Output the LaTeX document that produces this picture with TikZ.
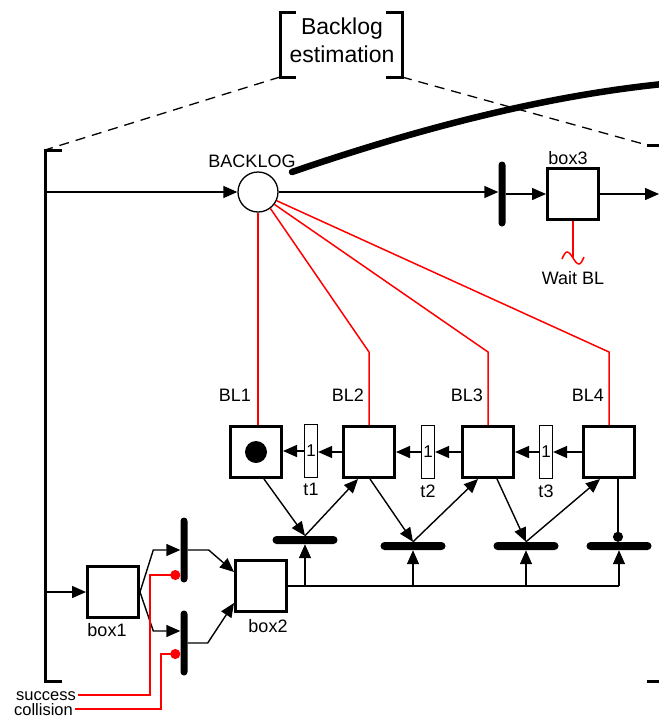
\documentclass[tikz,border=0pt]{standalone}
\usepackage{fontspec}
\setmainfont{Liberation Sans}
\usepackage{xcolor}
\definecolor{pnDark}{RGB}{0, 0, 0}
\definecolor{pnRed}{RGB}{255, 0, 0}
\usetikzlibrary{
    arrows.meta,
    positioning,
    calc
}

\begin{document}
\begin{tikzpicture}[
    x=1pt, y=-1pt,
    every node/.style={font=\fontsize{18}{21}\selectfont},
    placeNode/.style={
        circle, draw=pnDark, line width=1.3pt,
        fill=white, minimum size=40pt, inner sep=0pt
    },
    boxNode/.style={
        rectangle, draw=pnDark, line width=3pt,
        fill=white, minimum width=51pt, minimum height=51pt, inner sep=0pt
    },
    countNode/.style={
        rectangle, draw=pnDark, line width=1.2pt,
        fill=white, minimum width=13pt, minimum height=53pt, inner sep=0pt,
        font=\fontsize{17}{17}\selectfont
    },
    vertBar/.style={
        rectangle, fill=pnDark, rounded corners=3.5pt,
        minimum width=7pt, minimum height=65pt, inner sep=0pt
    },
    horzBar/.style={
        rectangle, fill=pnDark, rounded corners=4pt,
        minimum width=65pt, minimum height=8pt, inner sep=0pt
    },
    lblText/.style={inner sep=1pt, text=pnDark},
    flowLine/.style={
        -{Triangle[length=14pt,width=12pt]}, line width=1.4pt, draw=pnDark
    },
    plainLine/.style={line width=1.4pt, draw=pnDark},
    inhibLine/.style={-{Circle[length=10pt]}, line width=1.4pt, draw=pnDark},
    redLine/.style={line width=1.5pt, draw=pnRed},
    sigLine/.style={line width=1.8pt, draw=pnRed, -{Circle[length=10pt]}},
    bracketLine/.style={line width=3pt, draw=pnDark},
    zoomLine/.style={line width=1.3pt, draw=pnDark, dash pattern=on 10pt off 7pt}
]
    \useasboundingbox (0,0) rectangle (659,718);

    % Title bracket
    \node[lblText, align=center, inner sep=0pt, font=\fontsize{23}{28}\selectfont] (title) at (342,40) {Backlog\\estimation};
    \draw[bracketLine] (296,12) -- (280,12) -- (280,77) -- (296,77);
    \draw[bracketLine] (386,12) -- (402,12) -- (402,77) -- (386,77);
    \coordinate (zoomL) at (280,77);
    \coordinate (zoomR) at (402,77);

    % Outer brackets
    \draw[bracketLine] (62,150) -- (45,150) -- (45,681) -- (62,681);
    \draw[bracketLine] (647,145) -- (664,145) -- (664,681) -- (647,681);
    \coordinate (inTop) at (45,192);
    \coordinate (inLow) at (45,592);
    \coordinate (outRight) at (659,194);
    \draw[zoomLine] (zoomL) -- (45,150);
    \draw[zoomLine] (zoomR) -- (647,145);

    % Nodes
    \node[placeNode] (backlog) at (258,192) {};
    \node[lblText, above=2pt of backlog, xshift=-6pt] (backlogLbl) {BACKLOG};
    \draw[line width=6.5pt, line cap=round] (292,172) .. controls (420,128) and (545,96) .. (663,84);

    \node[vertBar] (bar0) at (502,194) {};
    \node[boxNode] (box3) at (573,194) {};
    \node[lblText, above=1pt of box3, xshift=-5pt] (box3Lbl) {box3};

    \node[boxNode] (bl1) at (256,452) {};
    \node[circle, fill=pnDark, minimum size=22pt, inner sep=0pt] (token) at (bl1) {};
    \node[boxNode] (bl2) at (369,452) {};
    \node[boxNode] (bl3) at (488,452) {};
    \node[boxNode] (bl4) at (609,452) {};
    \node[lblText, above left=22pt and 4pt of bl1.north] (bl1Lbl) {BL1};
    \node[lblText, above left=22pt and 4pt of bl2.north] (bl2Lbl) {BL2};
    \node[lblText, above left=22pt and 4pt of bl3.north] (bl3Lbl) {BL3};
    \node[lblText, above left=22pt and 4pt of bl4.north] (bl4Lbl) {BL4};

    \node[countNode] (t1) at (311,451) {1};
    \node[countNode] (t2) at (428,452) {1};
    \node[countNode] (t3) at (546,452) {1};
    \node[lblText, below=4pt of t1] (t1Lbl) {t1};
    \node[lblText, below=5pt of t2] (t2Lbl) {t2};
    \node[lblText, below=5pt of t3] (t3Lbl) {t3};

    \node[horzBar] (bar1) at (305,540) {};
    \node[horzBar] (bar2) at (413,546) {};
    \node[horzBar] (bar3) at (526,546) {};
    \node[horzBar] (bar4) at (619,546) {};

    \node[boxNode] (box1) at (113,592) {};
    \node[lblText, below=3pt of box1, xshift=-6pt] (box1Lbl) {box1};
    \node[vertBar] (vbarA) at (184,550) {};
    \node[vertBar] (vbarB) at (184,643) {};
    \node[boxNode] (box2) at (261,586) {};
    \node[lblText, below=5pt of box2, xshift=7pt] (box2Lbl) {box2};

    \node[lblText, inner sep=0pt, anchor=base east, font=\fontsize{16.5}{18}\selectfont] (success) at (76,700) {success};
    \node[lblText, inner sep=0pt, anchor=base east, font=\fontsize{16.5}{18}\selectfont] (collision) at (73,715) {collision};

    % Connections
    \draw[flowLine] (inTop) -- (backlog.west);
    \draw[flowLine] (backlog.east) -- (backlog.east -| bar0.west);
    \draw[flowLine] (bar0.east) -- (box3.west);
    \draw[flowLine] (box3.east) -- (outRight);

    \draw[redLine] (box3.south) -- ++(0,37) coordinate (sq);
    \draw[redLine] (sq) ++(-11,1) sin ++(5,-7) cos ++(6,6) sin ++(6,6) cos ++(5,-7);
    \node[lblText, below=12pt of sq] (waitLbl) {Wait BL};

    \draw[redLine] (backlog.south) -- (backlog.south |- bl1.north);
    \draw[redLine] (backlog.-53) -- ([yshift=73pt]bl2.north) -- (bl2.north);
    \draw[redLine] (backlog.-37) -- ([yshift=73pt]bl3.north) -- (bl3.north);
    \draw[redLine] (backlog.-25) -- ([yshift=73pt]bl4.north) -- (bl4.north);

    \foreach \src/\via/\dst in {bl2/t1/bl1, bl3/t2/bl2, bl4/t3/bl3} {
        \draw[flowLine] (\src.west) -- (\src.west -| \via.east);
        \draw[flowLine] (\via.west) -- (\via.west -| \dst.east);
    }

    \draw[flowLine] ([xshift=8pt]bl1.south) -- (bar1.north);
    \draw[flowLine] (bar1.north) -- ([xshift=-11pt]bl2.south);
    \draw[flowLine] ([xshift=1pt]bl2.south) -- (bar2.north);
    \draw[flowLine] (bar2.north) -- ([xshift=-10pt]bl3.south);
    \draw[flowLine] ([xshift=9pt]bl3.south) -- (bar3.north);
    \draw[flowLine] (bar3.north) -- ([xshift=-9pt]bl4.south);
    \draw[inhibLine] ([xshift=9pt]bl4.south) -- ([xshift=9pt]bl4.south |- bar4.north);

    \draw[plainLine] (box2.east) -- (box2.east -| bar4.south);
    \foreach \b in {bar1,bar2,bar3,bar4}
        \draw[flowLine] (box2.east -| \b.south) -- (\b.south);

    \draw[flowLine] (inLow) -- (box1.west);
    \draw[flowLine] (box1.east) -- ([xshift=-27pt]vbarA.west) -- (vbarA.west);
    \draw[flowLine] (box1.east) -- ([xshift=-27pt,yshift=12pt]vbarB.west) -- ([yshift=12pt]vbarB.west);
    \draw[flowLine] (vbarA.east) -- ([xshift=21pt]vbarA.east) -- ([yshift=14pt]box2.west);
    \draw[flowLine] (vbarB.east) -- ([xshift=20pt]vbarB.east) -- ([yshift=-17pt]box2.west);

    \draw[sigLine] ([xshift=2pt,yshift=5pt]success.base east) -| ([xshift=-30pt,yshift=-25pt]vbarA.west) -- ([yshift=-25pt]vbarA.west);
    \draw[sigLine] ([xshift=2pt,yshift=6pt]collision.base east) -| ([xshift=-19pt,yshift=-11pt]vbarB.west) -- ([yshift=-11pt]vbarB.west);

\end{tikzpicture}
\end{document}
